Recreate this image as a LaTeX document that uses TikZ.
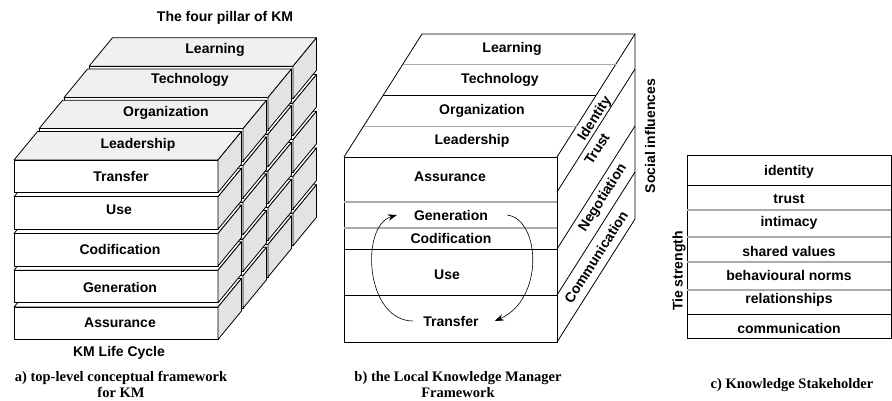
\documentclass[tikz,border=0pt]{standalone}
\usepackage{fontspec}
\setmainfont{Liberation Serif}
\newfontfamily\labelfont{Liberation Sans}
\usetikzlibrary{positioning,arrows.meta}

\begin{document}
\begin{tikzpicture}[x=1pt, y=-1pt,
                    lbl/.style={font=\labelfont\bfseries\fontsize{14}{16}\selectfont, inner sep=2pt},
                    captext/.style={font=\bfseries\fontsize{14.5}{16}\selectfont, align=center, inner sep=0pt},
                    brick/.style={draw, line width=0.8pt, line join=round},
                    boxline/.style={draw, line width=0.8pt},
                    greyline/.style={draw=gray!65, line width=1.1pt},
                    cyclearrow/.style={line width=0.6pt, -{Stealth[length=9pt, width=6.5pt]}},
                ]
                    \useasboundingbox (0,0) rectangle (892,400);

                    %Bricks (a), back pillar first, bottom row first
                    \foreach \p in {3,2,1,0}{
                      \foreach \r in {4,3,2,1,0}{
                        \pgfmathsetmacro{\bx}{14+25*\p}
                        \pgfmathsetmacro{\by}{160+36.75*\r-31.25*\p}
                        \ifnum\r=0 \def\topfill{gray!12}\else\def\topfill{white}\fi
                        \draw[brick, fill=\topfill] (\bx,\by) -- ++(204,0) -- ++(23.5,-28.5) -- ++(-204,0) -- cycle;
                        \draw[brick, fill=white] (\bx,\by) rectangle ++(204,32.5);
                        \draw[brick, fill=gray!22] (\bx+204,\by) -- ++(23.5,-28.5) -- ++(0,32.5) -- ++(-23.5,28.5) -- cycle;
                      }
                    }

                    %Nodes (a)
                    \node[lbl](pillars) at (225,18) {The four pillar of KM};
                    \node[lbl](learn) at (215,50) {Learning};
                    \node[lbl](tech) at (190,80) {Technology};
                    \node[lbl](org) at (166,113) {Organization};
                    \node[lbl](lead) at (138,145) {Leadership};
                    \node[lbl](tr) at (121,176) {Transfer};
                    \node[lbl](use) at (119,210) {Use};
                    \node[lbl](cod) at (120,249) {Codification};
                    \node[lbl](gen) at (120,287) {Generation};
                    \node[lbl](asr) at (120,323) {Assurance};
                    \node[lbl](lcyc) at (119,353) {KM Life Cycle};
                    \node[captext](capA) at (121,384.5) {a) top-level conceptual framework\\for KM};

                    %Cube (b)
                    \draw[boxline] (344,157) -- (422,34) -- (635,34) -- (635,219) -- (557,342);
                    \draw[boxline] (344,157) rectangle (557,342);
                    \draw[boxline] (557,157) -- (635,34);
                    \draw[greyline] (363.5,126.25) -- (576.5,126.25);
                    \draw[boxline] (383,95.5) -- (596,95.5);
                    \draw[greyline] (402.5,64.75) -- (615.5,64.75);
                    \draw[greyline] (344,202) -- (557,202);
                    \draw[greyline] (344,228) -- (557,228);
                    \draw[boxline] (344,249) -- (557,249);
                    \draw[boxline] (344,295) -- (557,295);
                    \draw[boxline] (557,192) -- (635,69);
                    \draw[boxline] (557,249) -- (635,126);
                    \draw[boxline] (557,295) -- (635,172);

                    %Nodes (b)
                    \node[lbl](bLearn) at (512,49) {Learning};
                    \node[lbl](bTech) at (500,80) {Technology};
                    \node[lbl](bOrg) at (482,111) {Organization};
                    \node[lbl](bLead) at (472,141) {Leadership};
                    \node[lbl](bAsr) at (450,177) {Assurance};
                    \node[lbl](bGen) at (451,215) {Generation};
                    \node[lbl](bCod) at (451,238) {Codification};
                    \node[lbl](bUse) at (447,275) {Use};
                    \node[lbl](bTr) at (451,321) {Transfer};
                    \node[lbl, rotate=57.5](ident) at (595,119) {Identity};
                    \node[lbl, rotate=57.5](trust) at (597,149) {Trust};
                    \node[lbl, rotate=57.5](nego) at (603,198) {Negotiation};
                    \node[lbl, rotate=57.5](comm) at (596,257) {Communication};
                    \node[lbl, rotate=90](social) at (650,136) {Social influences};
                    \node[captext](capB) at (458,385) {b) the Local Knowledge Manager\\Framework};

                    %Lines (b)
                    \draw[cyclearrow] ([xshift=-8pt]bTr.west) .. controls +(-48,0) and +(-37,11) .. ([xshift=-15pt]bGen.west);
                    \draw[cyclearrow] ([xshift=17pt]bGen.east) .. controls +(33,4) and +(50,-22) .. ([xshift=14pt]bTr.east);

                    %Table (c)
                    \draw[boxline] (687,155) rectangle (891,338);
                    \draw[boxline] (687,185) -- (891,185);
                    \draw[greyline] (687,210) -- (891,210);
                    \draw[greyline] (687,237) -- (891,237);
                    \draw[greyline] (687,262) -- (891,262);
                    \draw[greyline] (687,290) -- (891,290);
                    \draw[boxline] (687,314) -- (891,314);

                    %Nodes (c)
                    \node[lbl](cIdent) at (789,172) {identity};
                    \node[lbl](cTrust) at (789,199) {trust};
                    \node[lbl](cInt) at (789,223) {intimacy};
                    \node[lbl](cShared) at (789,251) {shared values};
                    \node[lbl](cNorms) at (789,275) {behavioural norms};
                    \node[lbl](cRel) at (789,300) {relationships};
                    \node[lbl](cComm) at (789,328) {communication};
                    \node[lbl, rotate=90](tie) at (679,271) {Tie strength};
                    \node[captext](capC) at (792,385) {c) Knowledge Stakeholder};
                \end{tikzpicture}
\end{document}
